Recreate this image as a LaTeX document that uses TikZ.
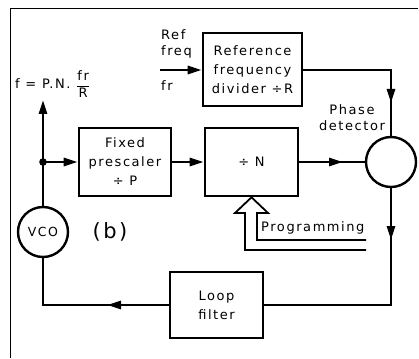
\documentclass[tikz,border=0pt]{standalone}
\usepackage{fontspec}
\setmainfont{DejaVu Sans}[LetterSpace=12]
\usetikzlibrary{arrows.meta}

\tikzset{
  blockbox/.style={draw, line width=2.6pt, rectangle, align=center,
    font=\fontsize{13}{19}\selectfont},
  ringnode/.style={draw, line width=2.4pt, circle, minimum size=50pt, inner sep=0pt},
  wire/.style={line width=2.8pt},
  tipped/.style={wire, -{Triangle[length=14pt,width=8pt]}},
  labeltext/.style={align=left, font=\fontsize{13}{16}\selectfont, inner sep=0pt}
}

\begin{document}
\begin{tikzpicture}[x=1pt, y=-1pt]
    \useasboundingbox (0,0) rectangle (419,358);

    % Frame edges
    \draw[line width=0.8pt] (10,358) -- (10,8) -- (418,8);

    % Blocks
    \node[blockbox, minimum width=99pt, minimum height=73pt] (refdiv) at (252.5,69.5)
    {Reference\\frequency\\divider ÷R};
    \node[blockbox, minimum width=92pt, minimum height=68pt] (presc) at (125,162)
    {Fixed\\prescaler\\÷ P};
    \node[blockbox, minimum width=93pt, minimum height=68pt] (divn) at (251.5,162)
    {÷ N};
    \node[blockbox, minimum width=93pt, minimum height=66pt] (loop) at (216.5,305)
    {Loop\\filter};
    \node[ringnode] (pd) at (391,162) {};
    \node[ringnode, font=\fontsize{12.5}{14}\selectfont] (vco) at (43,232) {VCO};

    % Labels
    \node[labeltext, anchor=west] (reflbl) at (161,44) {Ref\\freq};
    \node[labeltext, anchor=west] (frlbl) at (161,86) {fr};
    \node[labeltext, align=center] (pdlbl) at (352,118) {Phase\\detector};
    \node[labeltext, anchor=west] (flbl) at (15,84)
    {f = P.N. $\displaystyle\frac{\textrm{fr}}{\textrm{R}}$};
    \node[font=\fontsize{21}{24}\selectfont] (blbl) at (110,232) {(b)};
    \node[labeltext, anchor=west] (proglbl) at (261,228) {Programming};

    % Corner and arrow points
    \coordinate (refin) at (160,70);
    \coordinate (fout) at (43,100);
    \coordinate (tap) at (43,162);
    \coordinate (pdturn) at (391,70);
    \coordinate (refmid) at (391,103);
    \coordinate (nmid) at (343,162);
    \coordinate (lfturn) at (391,305);
    \coordinate (pdmid) at (391,240);
    \coordinate (vcoturn) at (43,305);
    \coordinate (lfmid) at (107,305);

    % Connectors
    \draw[tipped] (refin) -- (refdiv.west |- refin);
    \draw[wire] (refdiv.east |- pdturn) -- (pdturn) -- (pd.north);
    \draw[tipped] (pdturn) -- (refmid);
    \draw[tipped] (vco.north) -- (fout);
    \draw[tipped] (tap) -- (presc.west |- tap);
    \draw[tipped] (presc.east |- tap) -- (divn.west |- tap);
    \draw[wire] (divn.east |- pd) -- (pd.west);
    \draw[tipped] (divn.east |- pd) -- (nmid);
    \draw[wire] (pd.south) -- (lfturn) -- (loop.east |- lfturn);
    \draw[tipped] (pd.south) -- (pdmid);
    \draw[wire] (loop.west |- vcoturn) -- (vcoturn) -- (vco.south);
    \draw[tipped] (loop.west |- vcoturn) -- (lfmid);
    \fill (tap) circle (3.8pt);

    % Programming input
    \draw[line width=1.8pt, line join=miter]
      (366,250) -- (245,250) -- (245,213) -- (235,213) -- (divn.south)
      -- (268,213) -- (257,213) -- (257,240) -- (366,240);

\end{tikzpicture}
\end{document}
